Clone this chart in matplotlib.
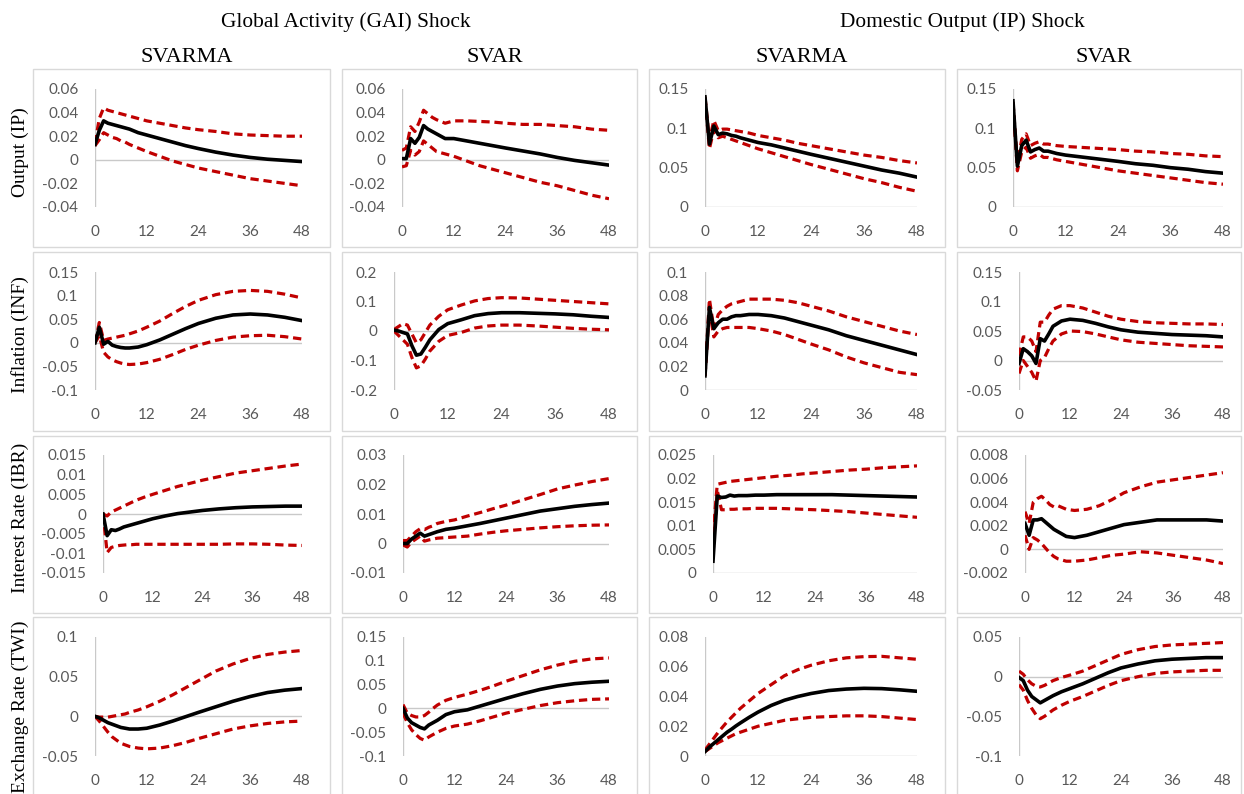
import matplotlib
matplotlib.use("Agg")
import matplotlib.pyplot as plt
from matplotlib.patches import Rectangle

# ---------------- data ----------------
horizon = [0, 1, 2, 3, 4, 5, 6, 7, 8, 10, 12, 15, 18, 21, 24, 28, 32, 36, 40, 44, 48]
xticks = [0, 12, 24, 36, 48]

shock_titles = ["Global Activity (GAI) Shock", "Domestic Output (IP) Shock"]
model_titles = ["SVARMA", "SVAR", "SVARMA", "SVAR"]
row_labels = ["Output (IP)", "Inflation (INF)", "Interest Rate (IBR)", "Exchange Rate (TWI)"]

# Row 1: Output (IP)
gai_svarma_ip_mid = [0.013, 0.025, 0.033, 0.031, 0.030, 0.029, 0.028, 0.027, 0.026, 0.023, 0.021, 0.018, 0.015, 0.012, 0.0095, 0.0065, 0.004, 0.002, 0.0005, -0.0005, -0.0015]
gai_svarma_ip_up = [0.014, 0.035, 0.044, 0.042, 0.041, 0.040, 0.039, 0.038, 0.037, 0.035, 0.033, 0.031, 0.029, 0.027, 0.0255, 0.024, 0.022, 0.021, 0.0205, 0.020, 0.020]
gai_svarma_ip_lo = [0.012, 0.017, 0.023, 0.021, 0.019, 0.018, 0.016, 0.015, 0.013, 0.010, 0.007, 0.003, -0.001, -0.004, -0.007, -0.010, -0.013, -0.016, -0.018, -0.020, -0.022]

gai_svar_ip_mid = [0.001, 0.001, 0.018, 0.014, 0.019, 0.029, 0.026, 0.024, 0.022, 0.018, 0.018, 0.016, 0.014, 0.012, 0.010, 0.0075, 0.005, 0.002, -0.0005, -0.0025, -0.0045]
gai_svar_ip_up = [0.008, 0.010, 0.028, 0.024, 0.032, 0.042, 0.039, 0.036, 0.034, 0.031, 0.033, 0.033, 0.0325, 0.032, 0.031, 0.030, 0.030, 0.029, 0.028, 0.026, 0.025]
gai_svar_ip_lo = [-0.006, -0.005, 0.008, 0.004, 0.007, 0.016, 0.013, 0.010, 0.007, 0.005, 0.003, -0.001, -0.005, -0.008, -0.011, -0.015, -0.019, -0.022, -0.026, -0.030, -0.033]

ip_svarma_ip_mid = [0.140, 0.080, 0.103, 0.092, 0.094, 0.093, 0.091, 0.090, 0.088, 0.085, 0.082, 0.079, 0.075, 0.071, 0.067, 0.062, 0.057, 0.052, 0.047, 0.043, 0.038]
ip_svarma_ip_up = [0.140, 0.085, 0.110, 0.097, 0.099, 0.099, 0.098, 0.097, 0.096, 0.094, 0.091, 0.088, 0.085, 0.081, 0.078, 0.074, 0.070, 0.066, 0.063, 0.059, 0.056]
ip_svarma_ip_lo = [0.138, 0.074, 0.098, 0.088, 0.090, 0.088, 0.086, 0.084, 0.082, 0.078, 0.074, 0.069, 0.064, 0.059, 0.054, 0.048, 0.042, 0.036, 0.031, 0.025, 0.020]

ip_svar_ip_mid = [0.135, 0.052, 0.078, 0.085, 0.070, 0.073, 0.075, 0.071, 0.071, 0.068, 0.066, 0.064, 0.062, 0.060, 0.058, 0.055, 0.053, 0.050, 0.048, 0.045, 0.043]
ip_svar_ip_up = [0.133, 0.056, 0.086, 0.093, 0.078, 0.081, 0.083, 0.080, 0.080, 0.078, 0.077, 0.076, 0.075, 0.074, 0.073, 0.071, 0.070, 0.068, 0.067, 0.065, 0.064]
ip_svar_ip_lo = [0.133, 0.046, 0.070, 0.076, 0.062, 0.065, 0.067, 0.063, 0.063, 0.060, 0.058, 0.055, 0.052, 0.049, 0.046, 0.043, 0.040, 0.037, 0.034, 0.031, 0.029]

# Row 2: Inflation (INF)
gai_svarma_inf_mid = [0.0, 0.033, -0.003, 0.003, -0.005, -0.008, -0.010, -0.011, -0.011, -0.009, -0.004, 0.006, 0.018, 0.030, 0.041, 0.052, 0.059, 0.061, 0.059, 0.054, 0.047]
gai_svarma_inf_up = [0.0, 0.043, 0.005, 0.008, 0.010, 0.012, 0.014, 0.016, 0.019, 0.025, 0.033, 0.046, 0.062, 0.077, 0.090, 0.102, 0.109, 0.111, 0.109, 0.103, 0.095]
gai_svarma_inf_lo = [0.0, 0.015, -0.020, -0.030, -0.036, -0.040, -0.043, -0.045, -0.046, -0.045, -0.042, -0.035, -0.025, -0.014, -0.005, 0.005, 0.012, 0.015, 0.016, 0.013, 0.008]

gai_svar_inf_mid = [0.003, 0.0, -0.005, -0.010, -0.050, -0.082, -0.078, -0.055, -0.030, 0.005, 0.025, 0.038, 0.052, 0.059, 0.062, 0.062, 0.060, 0.058, 0.055, 0.050, 0.046]
gai_svar_inf_up = [0.005, 0.015, 0.025, 0.020, -0.010, -0.040, -0.030, -0.005, 0.020, 0.050, 0.072, 0.088, 0.102, 0.110, 0.113, 0.112, 0.108, 0.104, 0.100, 0.096, 0.092]
gai_svar_inf_lo = [0.0, -0.015, -0.030, -0.045, -0.090, -0.125, -0.118, -0.095, -0.068, -0.035, -0.015, -0.005, 0.010, 0.017, 0.020, 0.020, 0.017, 0.013, 0.009, 0.006, 0.004]

ip_svarma_inf_mid = [0.012, 0.070, 0.052, 0.057, 0.060, 0.060, 0.062, 0.063, 0.063, 0.064, 0.064, 0.063, 0.061, 0.058, 0.055, 0.051, 0.046, 0.042, 0.038, 0.034, 0.030]
ip_svarma_inf_up = [0.012, 0.077, 0.052, 0.064, 0.068, 0.071, 0.073, 0.074, 0.075, 0.077, 0.077, 0.077, 0.076, 0.074, 0.071, 0.067, 0.062, 0.058, 0.054, 0.050, 0.047]
ip_svarma_inf_lo = [0.012, 0.068, 0.045, 0.050, 0.052, 0.053, 0.053, 0.053, 0.053, 0.053, 0.052, 0.050, 0.047, 0.043, 0.039, 0.034, 0.028, 0.023, 0.019, 0.015, 0.013]

ip_svar_inf_mid = [-0.005, 0.020, 0.015, 0.008, -0.005, 0.037, 0.033, 0.045, 0.058, 0.067, 0.070, 0.068, 0.063, 0.057, 0.052, 0.048, 0.046, 0.044, 0.043, 0.042, 0.040]
ip_svar_inf_up = [0.008, 0.040, 0.040, 0.033, 0.015, 0.065, 0.065, 0.077, 0.087, 0.093, 0.093, 0.089, 0.082, 0.075, 0.070, 0.066, 0.064, 0.063, 0.062, 0.062, 0.061]
ip_svar_inf_lo = [-0.022, 0.000, -0.010, -0.020, -0.035, 0.000, 0.005, 0.020, 0.033, 0.045, 0.050, 0.049, 0.045, 0.040, 0.035, 0.031, 0.029, 0.027, 0.025, 0.024, 0.023]

# Row 3: Interest rate (IBR)
gai_svarma_ibr_mid = [0.0, -0.0055, -0.004, -0.0042, -0.0038, -0.0033, -0.003, -0.0027, -0.0024, -0.0018, -0.0012, -0.0005, 0.0001, 0.0005, 0.0009, 0.0013, 0.0016, 0.0018, 0.0019, 0.002, 0.002]
gai_svarma_ibr_up = [0.0, -0.0005, 0.0005, 0.001, 0.0015, 0.002, 0.0025, 0.003, 0.0035, 0.0043, 0.005, 0.006, 0.007, 0.0078, 0.0086, 0.0095, 0.0104, 0.011, 0.0116, 0.0122, 0.0127]
gai_svarma_ibr_lo = [0.0, -0.0098, -0.0085, -0.0082, -0.0080, -0.0079, -0.0078, -0.0078, -0.0077, -0.0077, -0.0077, -0.0077, -0.0077, -0.0077, -0.0077, -0.0077, -0.0076, -0.0076, -0.0077, -0.0079, -0.008]

gai_svar_ibr_mid = [0.0, 0.0, 0.0015, 0.0025, 0.0035, 0.0025, 0.003, 0.0035, 0.004, 0.0048, 0.0052, 0.006, 0.0068, 0.0077, 0.0086, 0.0098, 0.011, 0.0118, 0.0126, 0.0132, 0.0137]
gai_svar_ibr_up = [0.001, 0.001, 0.0025, 0.004, 0.005, 0.0047, 0.0055, 0.006, 0.0068, 0.0075, 0.008, 0.0093, 0.0105, 0.0118, 0.013, 0.0148, 0.0166, 0.0185, 0.0198, 0.021, 0.022]
gai_svar_ibr_lo = [-0.0005, -0.0012, 0.0005, 0.0015, 0.0025, 0.0008, 0.0012, 0.0015, 0.0018, 0.002, 0.0022, 0.0025, 0.0032, 0.0038, 0.0043, 0.0048, 0.0053, 0.0057, 0.006, 0.0062, 0.0063]

ip_svarma_ibr_mid = [0.0025, 0.0163, 0.016, 0.0161, 0.0165, 0.0163, 0.0164, 0.0164, 0.0164, 0.0165, 0.0165, 0.0166, 0.0166, 0.0166, 0.0166, 0.0166, 0.0165, 0.0164, 0.0163, 0.0162, 0.0161]
ip_svarma_ibr_up = [0.008, 0.0188, 0.0190, 0.0192, 0.0194, 0.0195, 0.0196, 0.0197, 0.0198, 0.0200, 0.0202, 0.0205, 0.0207, 0.021, 0.0212, 0.0215, 0.0218, 0.022, 0.0223, 0.0225, 0.0227]
ip_svarma_ibr_lo = [0.004, 0.0175, 0.0134, 0.0134, 0.0135, 0.0135, 0.0136, 0.0136, 0.0136, 0.0137, 0.0137, 0.0137, 0.0136, 0.0135, 0.0134, 0.0132, 0.0130, 0.0127, 0.0124, 0.0121, 0.0118]

ip_svar_ibr_mid = [0.0022, 0.0012, 0.0025, 0.0025, 0.0026, 0.0023, 0.002, 0.0017, 0.0015, 0.0011, 0.001, 0.0012, 0.0015, 0.0018, 0.0021, 0.0023, 0.0025, 0.0025, 0.0025, 0.0025, 0.0024]
ip_svar_ibr_up = [0.0032, 0.0022, 0.004, 0.0043, 0.0045, 0.0042, 0.0038, 0.0036, 0.0037, 0.0034, 0.0033, 0.0034, 0.0037, 0.0042, 0.0048, 0.0053, 0.0057, 0.0059, 0.0061, 0.0063, 0.0065]
ip_svar_ibr_lo = [0.0012, 0.0, 0.001, 0.0008, 0.0005, 0.0001, -0.0003, -0.0006, -0.0008, -0.001, -0.001, -0.0009, -0.0007, -0.0005, -0.0004, -0.0002, -0.0003, -0.0005, -0.0007, -0.0009, -0.0012]

# Row 4: Exchange rate (TWI)
gai_svarma_twi_mid = [0.0, -0.002, -0.005, -0.008, -0.010, -0.012, -0.014, -0.015, -0.016, -0.016, -0.015, -0.011, -0.006, -0.0005, 0.005, 0.012, 0.019, 0.025, 0.030, 0.033, 0.035]
gai_svarma_twi_up = [0.0, -0.001, -0.001, -0.001, 0.0, 0.001, 0.002, 0.003, 0.005, 0.008, 0.012, 0.019, 0.027, 0.036, 0.045, 0.057, 0.066, 0.073, 0.078, 0.081, 0.083]
gai_svarma_twi_lo = [0.0, -0.006, -0.013, -0.020, -0.026, -0.030, -0.034, -0.036, -0.038, -0.040, -0.041, -0.040, -0.037, -0.033, -0.028, -0.022, -0.016, -0.012, -0.009, -0.007, -0.006]

gai_svar_twi_mid = [0.0, -0.020, -0.030, -0.035, -0.040, -0.043, -0.035, -0.030, -0.025, -0.013, -0.007, -0.003, 0.005, 0.013, 0.021, 0.031, 0.040, 0.047, 0.052, 0.055, 0.057]
gai_svar_twi_up = [0.008, -0.010, -0.015, -0.018, -0.018, -0.015, -0.008, 0.0, 0.007, 0.017, 0.023, 0.030, 0.038, 0.047, 0.057, 0.069, 0.081, 0.091, 0.099, 0.104, 0.106]
gai_svar_twi_lo = [-0.010, -0.030, -0.045, -0.055, -0.063, -0.067, -0.060, -0.055, -0.050, -0.042, -0.037, -0.033, -0.026, -0.018, -0.010, -0.002, 0.006, 0.012, 0.016, 0.019, 0.020]

ip_svarma_twi_mid = [0.003, 0.006, 0.0085, 0.011, 0.0135, 0.016, 0.018, 0.0202, 0.0222, 0.026, 0.0295, 0.034, 0.0375, 0.040, 0.042, 0.044, 0.045, 0.0455, 0.0453, 0.0445, 0.0435]
ip_svarma_twi_up = [0.004, 0.008, 0.012, 0.016, 0.0195, 0.023, 0.026, 0.029, 0.032, 0.037, 0.042, 0.048, 0.054, 0.058, 0.061, 0.064, 0.066, 0.0668, 0.067, 0.066, 0.065]
ip_svarma_twi_lo = [0.003, 0.005, 0.007, 0.009, 0.0105, 0.012, 0.0135, 0.015, 0.016, 0.018, 0.020, 0.022, 0.024, 0.025, 0.026, 0.0265, 0.027, 0.027, 0.0265, 0.0255, 0.0245]

ip_svar_twi_mid = [-0.001, -0.005, -0.017, -0.025, -0.029, -0.033, -0.030, -0.027, -0.024, -0.019, -0.015, -0.009, -0.002, 0.005, 0.011, 0.016, 0.020, 0.022, 0.023, 0.024, 0.024]
ip_svar_twi_up = [0.007, 0.003, -0.004, -0.009, -0.012, -0.013, -0.011, -0.008, -0.005, -0.001, 0.002, 0.007, 0.014, 0.021, 0.028, 0.034, 0.038, 0.040, 0.041, 0.042, 0.043]
ip_svar_twi_lo = [-0.010, -0.017, -0.030, -0.040, -0.048, -0.053, -0.050, -0.046, -0.042, -0.036, -0.031, -0.025, -0.018, -0.011, -0.005, 0.000, 0.004, 0.006, 0.007, 0.008, 0.008]

# y-axis ticks per panel
yt_ip_gai = [-0.04, -0.02, 0, 0.02, 0.04, 0.06]
yt_ip_ip = [0, 0.05, 0.1, 0.15]
yt_inf_c1 = [-0.1, -0.05, 0, 0.05, 0.1, 0.15]
yt_inf_c2 = [-0.2, -0.1, 0, 0.1, 0.2]
yt_inf_c3 = [0, 0.02, 0.04, 0.06, 0.08, 0.1]
yt_inf_c4 = [-0.05, 0, 0.05, 0.1, 0.15]
yt_ibr_c1 = [-0.015, -0.01, -0.005, 0, 0.005, 0.01, 0.015]
yt_ibr_c2 = [-0.01, 0, 0.01, 0.02, 0.03]
yt_ibr_c3 = [0, 0.005, 0.01, 0.015, 0.02, 0.025]
yt_ibr_c4 = [-0.002, 0, 0.002, 0.004, 0.006, 0.008]
yt_twi_c1 = [-0.05, 0, 0.05, 0.1]
yt_twi_c2 = [-0.1, -0.05, 0, 0.05, 0.1, 0.15]
yt_twi_c3 = [0, 0.02, 0.04, 0.06, 0.08]
yt_twi_c4 = [-0.1, -0.05, 0, 0.05]

panels = [
    [(gai_svarma_ip_lo, gai_svarma_ip_mid, gai_svarma_ip_up, yt_ip_gai),
     (gai_svar_ip_lo, gai_svar_ip_mid, gai_svar_ip_up, yt_ip_gai),
     (ip_svarma_ip_lo, ip_svarma_ip_mid, ip_svarma_ip_up, yt_ip_ip),
     (ip_svar_ip_lo, ip_svar_ip_mid, ip_svar_ip_up, yt_ip_ip)],
    [(gai_svarma_inf_lo, gai_svarma_inf_mid, gai_svarma_inf_up, yt_inf_c1),
     (gai_svar_inf_lo, gai_svar_inf_mid, gai_svar_inf_up, yt_inf_c2),
     (ip_svarma_inf_lo, ip_svarma_inf_mid, ip_svarma_inf_up, yt_inf_c3),
     (ip_svar_inf_lo, ip_svar_inf_mid, ip_svar_inf_up, yt_inf_c4)],
    [(gai_svarma_ibr_lo, gai_svarma_ibr_mid, gai_svarma_ibr_up, yt_ibr_c1),
     (gai_svar_ibr_lo, gai_svar_ibr_mid, gai_svar_ibr_up, yt_ibr_c2),
     (ip_svarma_ibr_lo, ip_svarma_ibr_mid, ip_svarma_ibr_up, yt_ibr_c3),
     (ip_svar_ibr_lo, ip_svar_ibr_mid, ip_svar_ibr_up, yt_ibr_c4)],
    [(gai_svarma_twi_lo, gai_svarma_twi_mid, gai_svarma_twi_up, yt_twi_c1),
     (gai_svar_twi_lo, gai_svar_twi_mid, gai_svar_twi_up, yt_twi_c2),
     (ip_svarma_twi_lo, ip_svarma_twi_mid, ip_svarma_twi_up, yt_twi_c3),
     (ip_svar_twi_lo, ip_svar_twi_mid, ip_svar_twi_up, yt_twi_c4)],
]

# ---------------- layout (pixels) ----------------
W, Hpx = 1244, 794
fig = plt.figure(figsize=(W / 100, Hpx / 100), dpi=100)

ax_left = [[95, 402, 705, 1013],
           [95, 394, 705, 1019],
           [103, 403, 713, 1025],
           [95, 403, 705, 1019]]
ax_right = [302, 609, 917, 1223]
ax_top = [89, 272, 455, 637]
ax_bot = [207, 390, 573, 756]

box_x = [(33, 330), (342, 637), (649, 945), (957, 1241)]
box_y = [(69, 247), (252, 431), (436, 613), (617, 800)]

GRAY_TXT = "#595959"
AXIS_C = "#C9C9C9"
BOX_C = "#D9D9D9"
RED = "#C00000"
TICK_FONT = ["Lato", "DejaVu Sans"]
SERIF = ["Liberation Serif", "DejaVu Serif"]


def fx(px):
    return px / W


def fy(py):
    return 1 - py / Hpx


def fmt(v):
    if abs(v) < 1e-12:
        return "0"
    return f"{round(v, 6):g}"


for (x0, x1) in box_x:
    for (y0, y1) in box_y:
        fig.patches.append(Rectangle((fx(x0), fy(y1)), fx(x1 - x0), (y1 - y0) / Hpx,
                                     transform=fig.transFigure, fill=False,
                                     edgecolor=BOX_C, linewidth=1.0, zorder=0))

for r in range(4):
    for c in range(4):
        lo, mid, up, yt = panels[r][c]
        l = ax_left[r][c]
        rr = ax_right[c]
        t = ax_top[r]
        b = ax_bot[r]
        ax = fig.add_axes([fx(l), fy(b), fx(rr - l), (b - t) / Hpx])
        ax.set_facecolor("none")
        ax.plot(horizon, up, color=RED, lw=2.3, dashes=(2.6, 1.5), zorder=3)
        ax.plot(horizon, lo, color=RED, lw=2.3, dashes=(2.6, 1.5), zorder=3)
        ax.plot(horizon, mid, color="black", lw=2.6, zorder=4, solid_joinstyle="round")
        ax.set_xlim(0, 48)
        ax.set_ylim(yt[0], yt[-1])
        ax.axhline(0, color=AXIS_C, lw=1.0, zorder=1)
        ax.axvline(0, color=AXIS_C, lw=1.0, zorder=1)
        for s in ax.spines.values():
            s.set_visible(False)
        ax.set_xticks(xticks)
        ax.set_xticklabels([str(v) for v in xticks])
        ax.set_yticks(yt)
        ax.set_yticklabels([fmt(v) for v in yt])
        ax.tick_params(axis="both", length=0, labelcolor=GRAY_TXT, labelsize=11)
        ax.tick_params(axis="x", pad=13)
        ax.tick_params(axis="y", pad=12)
        for lab in ax.get_xticklabels() + ax.get_yticklabels():
            lab.set_family(TICK_FONT)

# titles
fig.text(fx(346), fy(22), shock_titles[0], ha="center", va="center", fontsize=15.4, family=SERIF)
fig.text(fx(962), fy(22), shock_titles[1], ha="center", va="center", fontsize=15.4, family=SERIF)
for c, (x0, x1) in enumerate(box_x):
    fig.text(fx((x0 + x1) / 2 + 5), fy(57), model_titles[c], ha="center", va="center",
             fontsize=16, family=SERIF)
row_centers = [152, 335, 518, 707]
for r in range(4):
    fig.text(fx(20), fy(row_centers[r]), row_labels[r], ha="center", va="center",
             rotation=90, fontsize=14, family=SERIF)

fig.savefig("out.png", dpi=100)
